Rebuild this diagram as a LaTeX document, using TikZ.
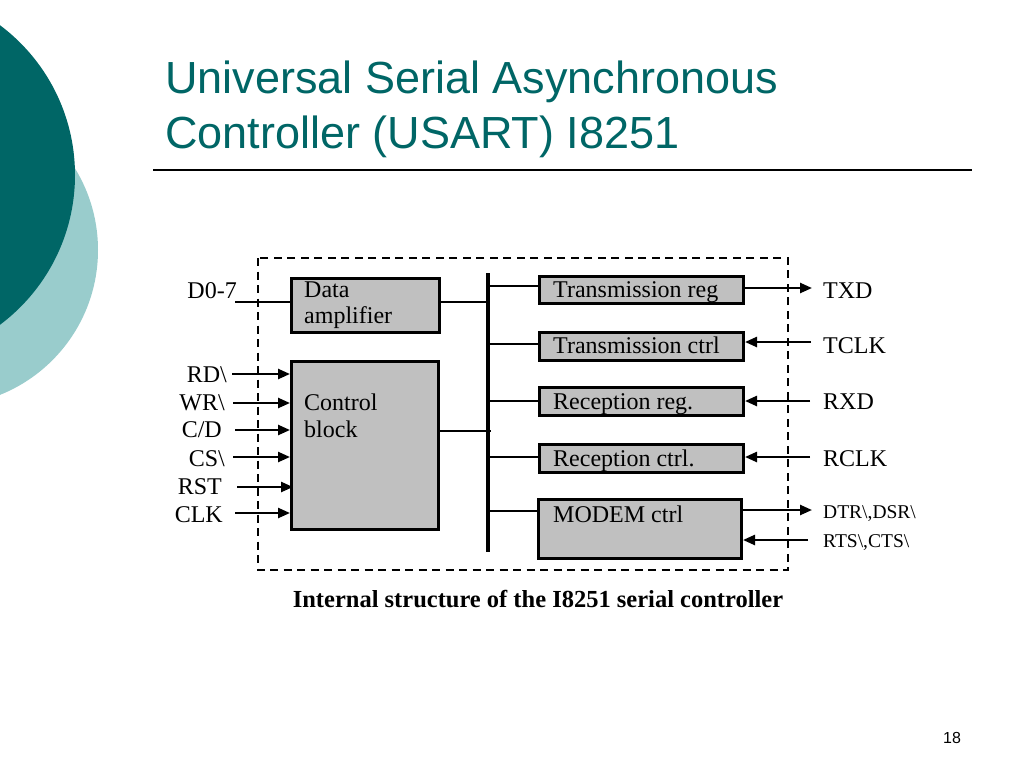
\documentclass[tikz,border=0pt]{standalone}
\usepackage{fontspec}
\setmainfont{Liberation Serif}
\newfontfamily\arialf{Liberation Sans}
\usetikzlibrary{arrows.meta}
\definecolor{tealdark}{RGB}{0,102,102}
\definecolor{teallight}{RGB}{153,204,204}
\definecolor{boxgray}{RGB}{192,192,192}
\begin{document}
\begin{tikzpicture}[x=1pt,y=-1pt,
  box/.style={draw=black,line width=3pt,fill=boxgray,inner sep=0pt,anchor=north west},
  lbl/.style={inner sep=0pt,font=\fontsize{24}{28}\selectfont},
  smalllbl/.style={inner sep=0pt,font=\fontsize{19.5}{23}\selectfont},
  wire/.style={line width=2.4pt},
  arr/.style={line width=2.4pt,-{Triangle[length=12pt,width=10pt]}},
  bus/.style={line width=3.2pt},
  frame/.style={line width=2.2pt,dash pattern=on 8pt off 5.5pt}
]
\useasboundingbox (0,0) rectangle (1024,768);
\fill[white] (0,0) rectangle (1024,768);
\begin{scope}
  \clip (0,0) rectangle (1024,768);
  \fill[teallight] (-58,250) circle (156pt);
  \fill[tealdark] (-112,175) circle (187pt);
\end{scope}

% title
\node[anchor=base west,inner sep=0pt,text=tealdark,font=\arialf\fontsize{45}{55}\selectfont] (t1) at (165,93) {Universal Serial Asynchronous};
\node[anchor=base west,inner sep=0pt,text=tealdark,font=\arialf\fontsize{45}{55}\selectfont] (t2) at (165,148) {Controller (USART) I8251};
\draw[line width=1.3pt] (153,170) -- (972,170);

% dashed frame
\draw[frame] (258,258) rectangle (788,570);

% left blocks
\node[box,minimum width=148pt,minimum height=54pt] (da) at (290,277) {};
\node[lbl,anchor=base west] (da1) at (304,297) {Data};
\node[lbl,anchor=base west] (da2) at (304,323) {amplifier};
\node[box,minimum width=147pt,minimum height=168pt] (cb) at (290,360) {};
\node[lbl,anchor=base west] (cb1) at (304,410) {Control};
\node[lbl,anchor=base west] (cb2) at (304,437) {block};

% bus
\coordinate (bt) at (488,273);
\coordinate (bb) at (488,552);
\draw[bus] (bt) -- (bb);

% right blocks
\node[box,minimum width=204pt,minimum height=27pt] (tr) at (538,275) {};
\node[box,minimum width=204pt,minimum height=28pt] (tc) at (538,331) {};
\node[box,minimum width=204pt,minimum height=28pt] (rr) at (538,386) {};
\node[box,minimum width=204pt,minimum height=28pt] (rc) at (538,443) {};
\node[box,minimum width=203pt,minimum height=59pt] (mc) at (537,498) {};
\node[lbl,anchor=base west] (trt) at (553,297) {Transmission reg};
\node[lbl,anchor=base west] (tct) at (553,353) {Transmission ctrl};
\node[lbl,anchor=base west] (rrt) at (553,409) {Reception reg.};
\node[lbl,anchor=base west] (rct) at (553,466) {Reception ctrl.};
\node[lbl,anchor=base west] (mct) at (553,522) {MODEM ctrl};

% bus connections
\draw[wire] (da.east |- 0,302) -- (490,302);
\draw[wire] (cb.east |- 0,431) -- (491,431);
\draw[wire] (488,286) -- (tr.west |- 0,286);
\draw[wire] (488,344) -- (tc.west |- 0,344);
\draw[wire] (488,401) -- (rr.west |- 0,401);
\draw[wire] (488,457) -- (rc.west |- 0,457);
\draw[wire] (488,511) -- (mc.west |- 0,511);

% right labels
\node[lbl,anchor=base west] (txd) at (823,298) {TXD};
\node[lbl,anchor=base west] (tclk) at (823,353) {TCLK};
\node[lbl,anchor=base west] (rxd) at (823,409) {RXD};
\node[lbl,anchor=base west] (rclk) at (823,466) {RCLK};
\node[smalllbl,anchor=base west] (dtr) at (823,518) {DTR\textbackslash,DSR\textbackslash};
\node[smalllbl,anchor=base west] (rts) at (823,547) {RTS\textbackslash,CTS\textbackslash};
\coordinate (txdp) at (812,288);
\coordinate (tclkp) at (811,342);
\coordinate (rxdp) at (810,401);
\coordinate (rclkp) at (810,457);
\coordinate (dtrp) at (812,510);
\coordinate (rtsp) at (808,540);
\draw[arr] (tr.east |- txdp) -- (txdp);
\draw[arr] (tclkp) -- (tc.east |- tclkp);
\draw[arr] (rxdp) -- (rr.east |- rxdp);
\draw[arr] (rclkp) -- (rc.east |- rclkp);
\draw[arr] (mc.east |- dtrp) -- (dtrp);
\draw[arr] (rtsp) -- (mc.east |- rtsp);

% left labels
\node[lbl,anchor=base east] (d07) at (237,298) {D0-7};
\node[lbl,anchor=base east] (rd) at (227,382) {RD\textbackslash};
\node[lbl,anchor=base east] (wr) at (225,410) {WR\textbackslash};
\node[lbl,anchor=base east] (cd) at (222,437) {C/D};
\node[lbl,anchor=base east] (cs) at (225,466) {CS\textbackslash};
\node[lbl,anchor=base east] (rst) at (222,494) {RST};
\node[lbl,anchor=base east] (clk) at (223,522) {CLK};
\coordinate (d07p) at (235,302);
\coordinate (rdp) at (232,374);
\coordinate (wrp) at (233,403);
\coordinate (cdp) at (235,430);
\coordinate (csp) at (233,457);
\coordinate (rstp) at (237,487);
\coordinate (clkp) at (235,513);
\draw[wire] (d07p) -- (da.west |- d07p);
\draw[arr] (rdp) -- (cb.west |- rdp);
\draw[arr] (wrp) -- (cb.west |- wrp);
\draw[arr] (cdp) -- (cb.west |- cdp);
\draw[arr] (csp) -- (cb.west |- csp);
\draw[arr] (rstp) -- ([xshift=3pt]cb.west |- rstp);
\draw[arr] (clkp) -- (cb.west |- clkp);

% caption
\node[inner sep=0pt,anchor=base,font=\bfseries\fontsize{24.5}{28}\selectfont] (cap) at (538,607) {Internal structure of the I8251 serial controller};
\node[inner sep=0pt,anchor=base,font=\arialf\fontsize{16}{19}\selectfont] (pg) at (952,743) {18};
\end{tikzpicture}
\end{document}
